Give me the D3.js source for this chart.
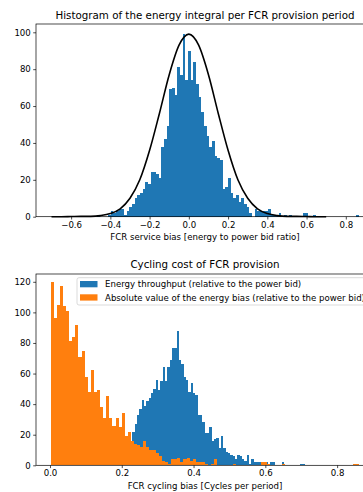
<!DOCTYPE html>
<html>
<head>
<meta charset="utf-8">
<script src="https://cdn.jsdelivr.net/npm/d3@7"></script>
<style>
body { margin: 0; background: #fff; }
svg text { font-family: "DejaVu Sans", sans-serif; fill: #000; }
</style>
</head>
<body>
<div id="chart"></div>
<script>
// top histogram: energy integral per period (bins start at topBinStart, fixed width)
var topBinStart = -0.4667, topBinWidth = 0.0136;
var topCounts = [1,0,0,0,1,3,2,3,4,4,
                 1,3,5,7,10,12,13,15,19,18,
                 24,24,23,21,38,42,49,69,70,66,
                 81,77,99,74,90,74,84,72,65,57,
                 49,44,38,41,33,32,31,15,16,21,
                 13,10,12,8,10,7,5,2,0,4,
                 3,3,3,3,4,1,1,1,2,0,
                 1,0,1,0,0,0,0,2,2,0,
                 0,1,0,0,0,0,0,0,0,0,
                 0,0,0,0,0,0,0,1];
// fitted curve
var curveX = [-0.7,-0.65,-0.6,-0.55,-0.5,-0.45,-0.4,-0.35,-0.3,-0.25,-0.2,-0.15,-0.1,-0.05,0,
              0.05,0.1,0.15,0.2,0.25,0.3,0.35,0.4,0.45,0.5,0.55,0.6,0.65,0.7];
var curveY = [0,0,0.1,0.2,0.2,0.6,1.7,4.3,10,20,36,56,77,93,99,
              93,77,56,36,20,10,4.3,1.7,0.6,0.2,0.2,0.1,0,0];
var topXTicks = [-0.6,-0.4,-0.2,0,0.2,0.4,0.6,0.8],
    topYTicks = [0,20,40,60,80,100];

// bottom histograms: cycling
var blueBinStart = 0.197, blueBinWidth = 0.0065;
var blueCounts = [3,5,8,12,16,22,27,33,37,43,
                  39,42,44,47,50,56,49,55,64,55,
                  64,69,77,77,88,69,66,58,56,48,
                  54,47,46,33,33,28,21,21,25,16,
                  17,18,11,19,11,9,8,7,6,4,
                  7,6,4,3,7,1,4,2,2,2,
                  2,1,2,0,2,2,0,0,0,2,
                  0,0,0,0,0,0,0,1,1];
var orangeBinStart = 0.002, orangeBinWidth = 0.0086;
var orangeCounts = [120,96,105,117,104,101,81,84,92,71,
                    75,58,48,62,48,49,38,31,45,31,
                    26,31,25,34,19,22,16,14,13,12,
                    16,12,10,10,8,6,3,2,1,4,
                    4,5,2,4,5,3,4,2,2,2,
                    1,0,1,4,0,0,0,0,0,1,
                    0,0,0,0,0,0,0,0,2,2,
                    1,0,0,0,0,1,0,0,0,0,
                    0,0,0,0,0,0,0,0,0,0,
                    0,0,0,0,0,0,0,0,1,1];
var botXTicks = [0,0.2,0.4,0.6,0.8],
    botYTicks = [0,20,40,60,80,100,120];
var legendNames = ["Energy throughput (relative to the power bid)",
                   "Absolute value of the energy bias (relative to the power bid)"];

var blue = "#1f77b4", orange = "#ff7f0e";
var w = 363, h = 492;
var fontSize = 8.6, titleSize = 10.3;

var svg = d3.select("#chart").append("svg")
    .attr("width", w)
    .attr("height", h);

var topBox = {left: 36, right: 377, top: 24, bottom: 216.7},
    botBox = {left: 36, right: 373, top: 274, bottom: 465.3};

var xTop = d3.scaleLinear().domain([-0.779, 0.959]).range([topBox.left, topBox.right]),
    yTop = d3.scaleLinear().domain([0, 104.5]).range([topBox.bottom, topBox.top]),
    xBot = d3.scaleLinear().domain([-0.039, 0.9]).range([botBox.left, botBox.right]),
    yBot = d3.scaleLinear().domain([0, 125.1]).range([botBox.bottom, botBox.top]);

function makeBins(start, width, counts) {
  return counts.map(function(c, i) {
    return {x0: start + i * width, x1: start + (i + 1) * width, n: c};
  }).filter(function(d) { return d.n > 0; });
}

function drawBars(data, x, y, color) {
  svg.append("g")
    .attr("shape-rendering", "crispEdges")
    .selectAll("rect")
    .data(data)
    .enter().append("rect")
      .attr("fill", color)
      .attr("x", function(d) { return x(d.x0); })
      .attr("y", function(d) { return y(d.n); })
      .attr("width", function(d) { return x(d.x1) - x(d.x0); })
      .attr("height", function(d) { return y(0) - y(d.n); });
}

function drawAxes(box, x, y, xTicks, yTicks) {
  var gx = svg.append("g")
      .attr("transform", "translate(0," + box.bottom + ")")
      .call(d3.axisBottom(x).tickValues(xTicks).tickFormat(d3.format(".1f"))
            .tickSize(2.8).tickPadding(2.2).tickSizeOuter(0));
  var gy = svg.append("g")
      .attr("transform", "translate(" + box.left + ",0)")
      .call(d3.axisLeft(y).tickValues(yTicks).tickFormat(d3.format("d"))
            .tickSize(2.8).tickPadding(2.4).tickSizeOuter(0));
  [gx, gy].forEach(function(g) {
    g.attr("font-size", fontSize).attr("font-family", "DejaVu Sans");
    g.select(".domain").remove();
    g.selectAll(".tick line").attr("stroke", "#000").attr("stroke-width", 0.7);
    g.selectAll(".tick text").attr("fill", "#222");
  });
  svg.append("rect")
      .attr("x", box.left)
      .attr("y", box.top)
      .attr("width", box.right - box.left)
      .attr("height", box.bottom - box.top)
      .attr("fill", "none")
      .attr("stroke", "#000")
      .attr("stroke-width", 0.7);
}

// top chart
drawBars(makeBins(topBinStart, topBinWidth, topCounts), xTop, yTop, blue);

var line = d3.line()
    .x(function(d) { return xTop(d[0]); })
    .y(function(d) { return yTop(d[1]); })
    .curve(d3.curveMonotoneX);
svg.append("path")
    .datum(curveX.map(function(v, i) { return [v, curveY[i]]; }))
    .attr("fill", "none")
    .attr("stroke", "#000")
    .attr("stroke-width", 1.6)
    .attr("d", line);

drawAxes(topBox, xTop, yTop, topXTicks, topYTicks);

svg.append("text")
    .attr("x", 205)
    .attr("y", 19.3)
    .attr("text-anchor", "middle")
    .style("font-size", titleSize + "px")
    .text("Histogram of the energy integral per FCR provision period");
svg.append("text")
    .attr("x", 205)
    .attr("y", 240)
    .attr("text-anchor", "middle")
    .style("font-size", fontSize + "px")
    .text("FCR service bias [energy to power bid ratio]");

// bottom chart
drawBars(makeBins(blueBinStart, blueBinWidth, blueCounts), xBot, yBot, blue);
drawBars(makeBins(orangeBinStart, orangeBinWidth, orangeCounts), xBot, yBot, orange);
drawAxes(botBox, xBot, yBot, botXTicks, botYTicks);

svg.append("text")
    .attr("x", 205)
    .attr("y", 268.3)
    .attr("text-anchor", "middle")
    .style("font-size", titleSize + "px")
    .text("Cycling cost of FCR provision");
svg.append("text")
    .attr("x", 205)
    .attr("y", 489)
    .attr("text-anchor", "middle")
    .style("font-size", fontSize + "px")
    .text("FCR cycling bias [Cycles per period]");

// legend
var legend = svg.append("g")
    .attr("transform", "translate(77,277.7)");
legend.append("rect")
    .attr("width", 300)
    .attr("height", 27.3)
    .attr("rx", 2)
    .attr("fill", "#fff")
    .attr("fill-opacity", 0.8)
    .attr("stroke", "#ccc")
    .attr("stroke-width", 0.7);
legend.selectAll("rect.patch")
    .data(legendNames)
    .enter().append("rect")
      .attr("class", "patch")
      .attr("x", 3)
      .attr("y", function(d, i) { return 3.3 + i * 13.3; })
      .attr("width", 17.5)
      .attr("height", 6.3)
      .attr("fill", function(d, i) { return i === 0 ? blue : orange; });
legend.selectAll("text")
    .data(legendNames)
    .enter().append("text")
      .attr("x", 28)
      .attr("y", function(d, i) { return 9.6 + i * 13.3; })
      .style("font-size", fontSize + "px")
      .text(function(d) { return d; });
</script>
</body>
</html>
